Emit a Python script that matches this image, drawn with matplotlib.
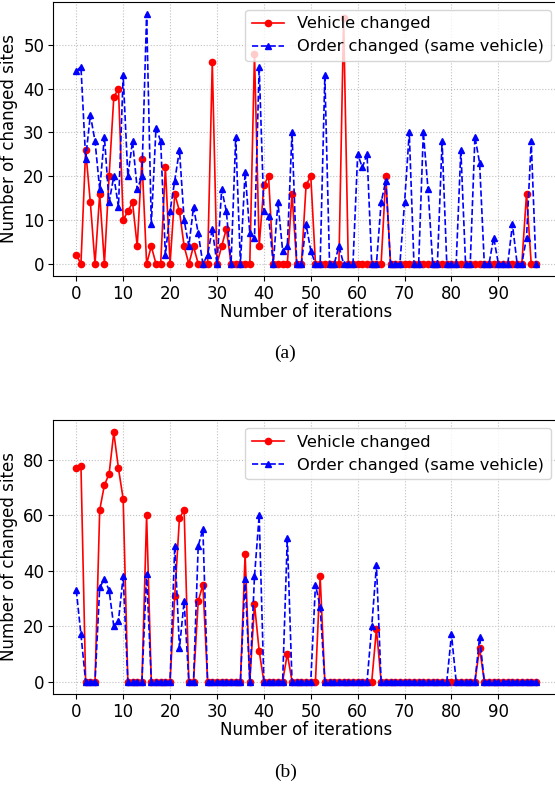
import numpy as np
import matplotlib
matplotlib.use('Agg')
import matplotlib.pyplot as plt

# iterations 0..98
iterations = list(range(99))

# (a) values
vehicle_a = [2, 0, 26, 14, 0, 16, 0, 20, 38, 40,
             10, 12, 14, 4, 24, 0, 4, 0, 0, 22,
             0, 16, 12, 4, 0, 4, 0, 0, 0, 46,
             0, 4, 8, 0, 0, 0, 0, 0, 48, 4,
             18, 20, 0, 0, 0, 0, 16, 0, 0, 18,
             20, 0, 0, 0, 0, 0, 0, 56, 0, 0,
             0, 0, 0, 0, 0, 0, 20, 0, 0, 0,
             0, 0, 0, 0, 0, 0, 0, 0, 0, 0,
             0, 0, 0, 0, 0, 0, 0, 0, 0, 0,
             0, 0, 0, 0, 0, 0, 16, 0, 0]
order_a = [44, 45, 24, 34, 28, 17, 29, 14, 20, 13,
           43, 20, 28, 17, 20, 57, 9, 31, 28, 2,
           12, 19, 26, 10, 4, 13, 7, 0, 2, 8,
           0, 17, 12, 0, 29, 0, 21, 7, 6, 45,
           12, 11, 0, 14, 3, 4, 30, 0, 0, 9,
           3, 0, 0, 43, 0, 0, 4, 0, 0, 0,
           25, 22, 25, 0, 0, 14, 19, 0, 0, 0,
           14, 30, 0, 0, 30, 17, 0, 0, 28, 0,
           0, 0, 26, 0, 0, 29, 23, 0, 0, 6,
           0, 0, 0, 9, 0, 0, 6, 28, 0]

# (b)
vehicle_b = [77, 78, 0, 0, 0, 62, 71, 75, 90, 77,
             66, 0, 0, 0, 0, 60, 0, 0, 0, 0,
             0, 31, 59, 62, 0, 0, 29, 35, 0, 0,
             0, 0, 0, 0, 0, 0, 46, 0, 28, 11,
             0, 0, 0, 0, 0, 10, 0, 0, 0, 0,
             0, 0, 38, 0, 0, 0, 0, 0, 0, 0,
             0, 0, 0, 0, 19, 0, 0, 0, 0, 0,
             0, 0, 0, 0, 0, 0, 0, 0, 0, 0,
             0, 0, 0, 0, 0, 0, 12, 0, 0, 0,
             0, 0, 0, 0, 0, 0, 0, 0, 0]
order_b = [33, 17, 0, 0, 0, 34, 37, 33, 20, 22,
           38, 0, 0, 0, 0, 39, 0, 0, 0, 0,
           0, 49, 12, 29, 0, 0, 49, 55, 0, 0,
           0, 0, 0, 0, 0, 0, 37, 0, 38, 60,
           0, 0, 0, 0, 0, 52, 0, 0, 0, 0,
           0, 35, 27, 0, 0, 0, 0, 0, 0, 0,
           0, 0, 0, 20, 42, 0, 0, 0, 0, 0,
           0, 0, 0, 0, 0, 0, 0, 0, 0, 0,
           17, 0, 0, 0, 0, 0, 16, 0, 0, 0,
           0, 0, 0, 0, 0, 0, 0, 0, 0]

xticks = list(range(0, 100, 10))


def draw(ax, vehicle, order):
    ax.plot(iterations, vehicle, color='red', marker='o', markersize=4.5,
            linewidth=1.2, label='Vehicle changed')
    ax.plot(iterations, order, color='blue', marker='^', markersize=4.5,
            linestyle='--', linewidth=1.2, label='Order changed (same vehicle)')
    ax.set_xticks(xticks)
    ax.set_xlabel('Number of iterations', fontsize=12, labelpad=0)
    ax.set_ylabel('Number of changed sites', fontsize=12, labelpad=4)
    ax.tick_params(labelsize=12, pad=3)
    ax.grid(True, linestyle=':', color='#c0c0c0', linewidth=0.8)
    ax.legend(loc='upper right', fontsize=11.7, numpoints=1, borderaxespad=0.5)


fig = plt.figure(figsize=(5.55, 7.94), dpi=100)
# the right spine sits just past the image edge, as in the original crop
axA = fig.add_axes([0.096, 0.652, 0.911, 0.346])
axB = fig.add_axes([0.096, 0.126, 0.911, 0.345])

draw(axA, vehicle_a, order_a)
draw(axB, vehicle_b, order_b)

fig.text(0.514, 0.555, '(a)', ha='center', va='center',
         fontsize=14, family='Liberation Serif')
fig.text(0.514, 0.027, '(b)', ha='center', va='center',
         fontsize=14, family='Liberation Serif')

fig.savefig('out.png', dpi=100)
